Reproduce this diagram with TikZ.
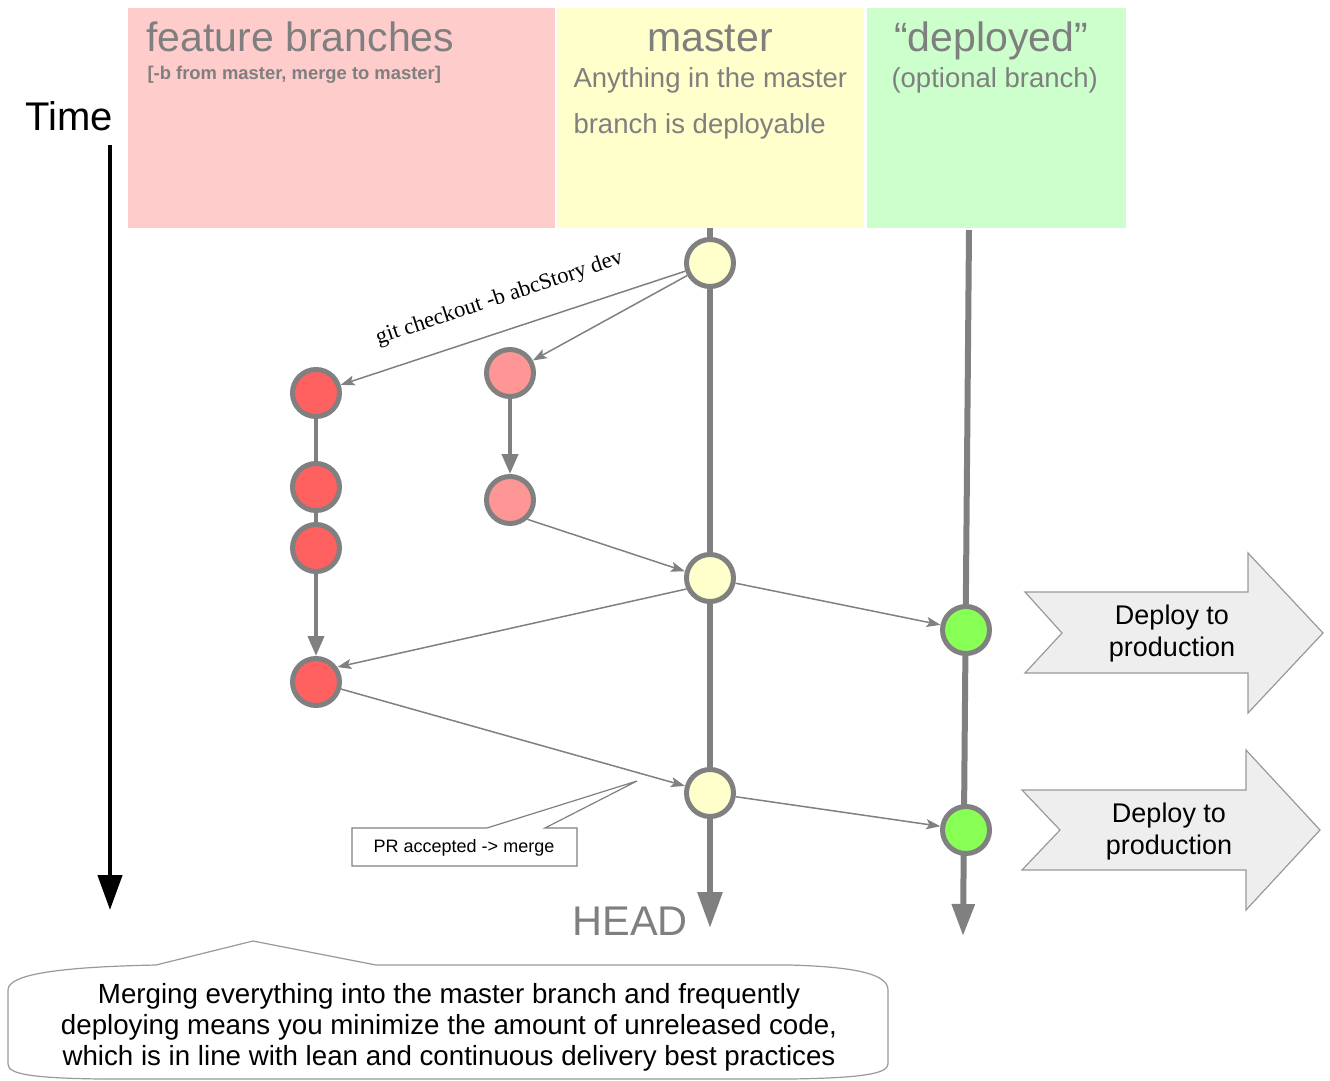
\documentclass[tikz,border=0pt]{standalone}
\usepackage{fontspec}
\setmainfont{Liberation Sans}
\newfontfamily\labelserif{Liberation Serif}
\usetikzlibrary{arrows.meta}

\definecolor{panelred}{HTML}{FFCCCC}
\definecolor{panelyellow}{HTML}{FFFFCC}
\definecolor{panelgreen}{HTML}{CCFFCC}
\definecolor{linegray}{HTML}{808080}
\definecolor{titlegray}{HTML}{7F7F7F}
\definecolor{featred}{HTML}{FF6060}
\definecolor{featpink}{HTML}{FF9696}
\definecolor{deploygreen}{HTML}{88FF55}
\definecolor{shapegray}{HTML}{EEEEEE}
\definecolor{edgegray}{HTML}{999999}

\tikzset{
  commit/.style={circle, draw=linegray, line width=5pt, minimum size=47pt, inner sep=0pt},
  mastercommit/.style={commit, fill=panelyellow},
  featcommit/.style={commit, fill=featred},
  storycommit/.style={commit, fill=featpink},
  deploycommit/.style={commit, fill=deploygreen},
  thinlink/.style={draw=linegray, line width=1.5pt,
    -{Stealth[length=14pt,width=10pt,inset=3pt,fill=linegray]}},
  branchline/.style={draw=linegray, line width=4pt},
  brancharrow/.style={branchline, -{Triangle[length=20pt,width=16pt]}},
  trunk/.style={draw=linegray, line width=6pt, -{Triangle[length=36pt,width=24pt]}},
  title/.style={text=titlegray, font=\fontsize{41}{45}\selectfont},
  subtitle/.style={text=titlegray, font=\fontsize{27.5}{45}\selectfont},
  deployshape/.style={fill=shapegray, draw=edgegray, line width=1.2pt, line join=miter},
  deploytext/.style={align=center, font=\fontsize{27}{32}\selectfont},
}

\begin{document}
\begin{tikzpicture}[x=1pt, y=-1pt]
\useasboundingbox (0,0) rectangle (1330,1081);

% column headers
\fill[panelred]    (128,8) rectangle (555,228);
\fill[panelyellow] (557,8) rectangle (864,228);
\fill[panelgreen]  (867,8) rectangle (1126,228);

\node[title, anchor=base west] (fbtitle) at (143,52) {feature branches};
\node[text=titlegray, anchor=base west, font=\bfseries\fontsize{18.4}{20}\selectfont] (fbsub) at (144,79) {[-b from master, merge to master]};

\node[title, anchor=base] (mtitle) at (710,52) {master};
\node[subtitle, anchor=base west] (msub1) at (570,88) {Anything in the master};
\node[subtitle, anchor=base west] (msub2) at (570,133) {branch is deployable};

\node[title, anchor=base] (dtitle) at (991,52) {“deployed”};
\node[subtitle, anchor=base west] (dsub) at (888,88) {(optional branch)};

% time axis
\node[anchor=base west, font=\fontsize{40}{44}\selectfont] (time) at (22,130) {Time};
\coordinate (ttop) at (110,145);
\coordinate (tend) at (110,910);
\draw[line width=4.5pt, -{Triangle[length=35pt,width=24pt]}] (ttop) -- (tend);

% trunk lines
\coordinate (mtop) at (710,228);
\coordinate (mend) at (710,928);
\coordinate (dtop) at (969,230);
\coordinate (dend) at (963,936);
\draw[trunk] (mtop) -- (mend);
\draw[trunk, -{Triangle[length=32pt,width=22pt]}] (dtop) -- (dend);

% commits
\node[mastercommit] (m1) at (710,263) {};
\node[mastercommit] (m2) at (710,578) {};
\node[mastercommit] (m3) at (710,793) {};
\node[featcommit] (f1) at (316,393) {};
\node[featcommit] (f2) at (316,487) {};
\node[featcommit] (f3) at (316,548) {};
\node[featcommit] (f4) at (316,682) {};
\node[storycommit] (s1) at (510,373) {};
\node[storycommit] (s2) at (510,500) {};
\node[deploycommit] (d1) at (966,630) {};
\node[deploycommit] (d2) at (966,830) {};

% branch histories
\draw[branchline] (f1) -- (f2);
\draw[branchline] (f2) -- (f3);
\draw[brancharrow] (f3) -- (f4);
\draw[brancharrow] (s1) -- (s2);

% branching, merging and deploying
\draw[thinlink] (m1) -- node[sloped, above=20pt, pos=0.51, text=black, inner sep=1pt,
  font=\labelserif\fontsize{22.5}{24}\selectfont] (cmd) {git checkout -b abcStory dev} (f1);
\draw[thinlink] (m1) -- (s1);
\draw[thinlink] (s2.-48) -- (m2.165);
\draw[thinlink] (m2.-155) -- (f4.35);
\draw[thinlink] (m2) -- (d1);
\draw[thinlink] (f4) -- (m3);
\draw[thinlink] (m3) -- (d2);

% merge callout
\coordinate (prtip) at (637,781);
\draw[fill=white, draw=linegray, line width=1.2pt]
  (352,828) -- (487,828) -- (prtip) -- (545,828) -- (577,828) -- (577,866) -- (352,866) -- cycle;
\node[font=\fontsize{18}{20}\selectfont, inner sep=0pt] (pr) at (464,848) {PR accepted -> merge};

\node[anchor=base, text=titlegray, font=\fontsize{41.5}{45}\selectfont] (head) at (630,935) {HEAD};

% deploy arrows
\draw[deployshape] (1025,592) -- (1248,592) -- (1248,553) -- (1323,633) -- (1248,713)
  -- (1248,673) -- (1025,673) -- (1062,633) -- cycle;
\node[deploytext] (dep1) at (1172,634) {Deploy to\\production};
\draw[deployshape] (1022,790) -- (1246,790) -- (1246,750) -- (1320,830) -- (1246,910)
  -- (1246,870) -- (1022,870) -- (1060,830) -- cycle;
\node[deploytext] (dep2) at (1169,832) {Deploy to\\production};

% summary bubble
\draw[draw=edgegray, line width=1.2pt, fill=white]
  (8,990) .. controls (8,974) and (60,967) .. (156,965) -- (253,941) -- (376,965)
  -- (790,965) .. controls (860,967) and (888,975) .. (888,990)
  -- (888,1064) .. controls (888,1074) and (860,1078) .. (790,1079)
  -- (100,1079) .. controls (30,1078) and (8,1074) .. (8,1064) -- cycle;
\node[align=center, font=\fontsize{27.7}{31}\selectfont] (summary) at (449,1027)
  {Merging everything into the master branch and frequently\\
   deploying means you minimize the amount of unreleased code,\\
   which is in line with lean and continuous delivery best practices};
\end{tikzpicture}
\end{document}
